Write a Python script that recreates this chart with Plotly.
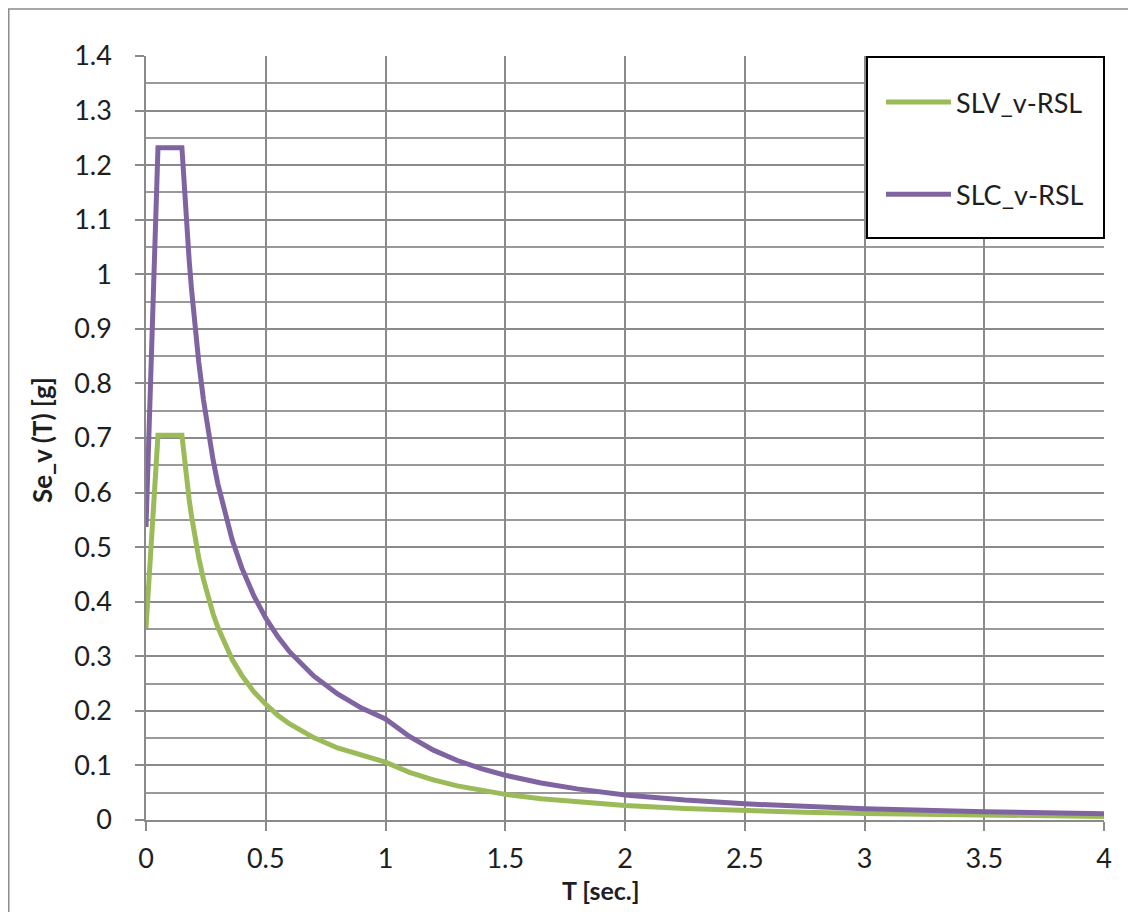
import plotly.graph_objects as go

# Period T [sec.]
T = [0.0, 0.05, 0.15, 0.16, 0.17, 0.18, 0.19, 0.2, 0.22, 0.24, 0.26, 0.28,
     0.3, 0.33, 0.36, 0.4, 0.45, 0.5, 0.55, 0.6, 0.7, 0.8, 0.9, 1.0, 1.1,
     1.2, 1.3, 1.4, 1.5, 1.65, 1.8, 2.0, 2.25, 2.5, 2.75, 3.0, 3.5, 4.0]

# Se_v(T) [g]
slv = [0.352, 0.705, 0.705, 0.661, 0.622, 0.588, 0.557, 0.529, 0.481, 0.441,
       0.407, 0.378, 0.353, 0.321, 0.294, 0.265, 0.235, 0.212, 0.192, 0.176,
       0.151, 0.132, 0.118, 0.106, 0.0874, 0.0735, 0.0626, 0.0540, 0.0470,
       0.0389, 0.0327, 0.0265, 0.0209, 0.0169, 0.0140, 0.0118, 0.0086,
       0.0066]
slc = [0.537, 1.232, 1.232, 1.155, 1.087, 1.027, 0.973, 0.924, 0.840, 0.770,
       0.711, 0.660, 0.616, 0.560, 0.513, 0.462, 0.411, 0.370, 0.336, 0.308,
       0.264, 0.231, 0.205, 0.185, 0.153, 0.128, 0.109, 0.094, 0.082,
       0.0679, 0.0570, 0.046, 0.0365, 0.0296, 0.0244, 0.0205, 0.0151,
       0.0116]

series_names = ["SLV_v-RSL", "SLC_v-RSL"]
series_colors = ["#9BBB59", "#8064A2"]

x_title = "T [sec.]"
y_title = "Se_v (T) [g]"

FONT = "Lato, 'Open Sans', sans-serif"
GRID = "#8a8a8a"
TXT = "#1e1e1e"

fig = go.Figure()
for name, ys, col in zip(series_names, [slv, slc], series_colors):
    fig.add_trace(go.Scatter(
        x=T, y=ys, mode="lines", name=name, legendgroup=name,
        line=dict(color=col, width=5),
    ))

OFF = 8  # page body margin
W, H = 1136, 912
L, TOP = 146 - OFF, 56 - OFF
pw, ph = 958, 764
R = W - L - pw
B = H - TOP - ph

def px(xp):
    return (xp - OFF - L) / pw

def py(yp):
    return (TOP + ph - (yp - OFF)) / ph

fig.update_layout(
    width=W, height=H,
    margin=dict(l=L, r=R, t=TOP, b=B, autoexpand=False),
    paper_bgcolor="white", plot_bgcolor="white",
    font=dict(family=FONT, size=27, color=TXT),
    showlegend=True,
    legend=dict(
        x=px(881), xanchor="left", y=py(78), yanchor="top",
        bgcolor="rgba(0,0,0,0)", borderwidth=0,
        itemwidth=65, tracegroupgap=54,
        font=dict(family=FONT, size=27, color=TXT),
        traceorder="grouped",
    ),
    xaxis=dict(
        range=[0, 4], dtick=0.5, tick0=0,
        showgrid=True, gridcolor=GRID, gridwidth=1.5,
        zeroline=False, showline=True, linecolor=GRID, linewidth=1.5,
        ticks="outside", ticklen=9, tickcolor=GRID, tickwidth=1.5,
        ticklabelstandoff=5,
        tickfont=dict(family=FONT, size=27, color=TXT),
    ),
    yaxis=dict(
        range=[0, 1.4], dtick=0.1, tick0=0,
        showgrid=True, gridcolor=GRID, gridwidth=1.5,
        zeroline=False, showline=True, linecolor=GRID, linewidth=1.5,
        ticks="outside", ticklen=9, tickcolor=GRID, tickwidth=1.5,
        ticklabelstandoff=18,
        tickfont=dict(family=FONT, size=27, color=TXT),
        minor=dict(dtick=0.05, showgrid=True, gridcolor="#9a9a9a",
                   gridwidth=1.5, ticks=""),
    ),
    shapes=[
        # outer chart border
        dict(type="rect", xref="paper", yref="paper",
             x0=(0.75 - L) / pw, x1=px(1150), y0=py(930), y1=py(9),
             line=dict(color="#8c8c8c", width=1.5), layer="below"),
        # legend box
        dict(type="rect", xref="paper", yref="paper",
             x0=px(867), x1=px(1104), y0=py(238), y1=py(57),
             line=dict(color="black", width=2), fillcolor="white",
             layer="above"),
    ],
    annotations=[
        dict(text="<b>" + x_title + "</b>", xref="paper", yref="paper",
             x=px(601), y=py(890), showarrow=False,
             font=dict(family=FONT, size=25, color=TXT),
             xanchor="center", yanchor="middle"),
        dict(text="<b>" + y_title + "</b>", xref="paper", yref="paper",
             x=px(42), y=py(440), showarrow=False, textangle=-90,
             font=dict(family=FONT, size=26, color=TXT),
             xanchor="center", yanchor="middle"),
    ],
)

fig.write_html("out.html")
